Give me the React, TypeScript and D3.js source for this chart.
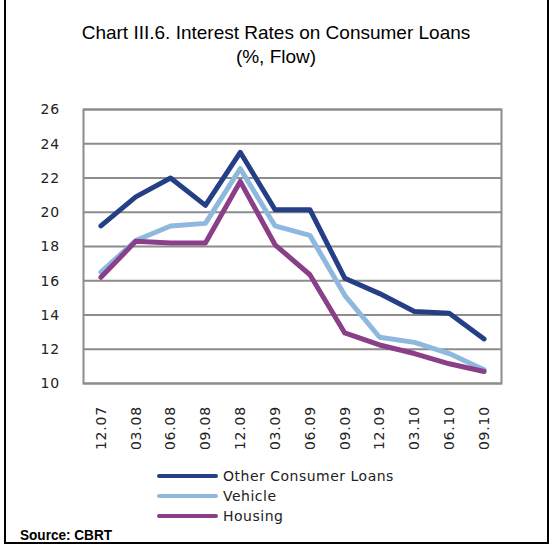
import React from "react";
import * as d3 from "d3";

const categories = ["12.07","03.08","06.08","09.08","12.08","03.09","06.09","09.09","12.09","03.10","06.10","09.10"];
const otherLoans = [19.2,20.9,22.0,20.4,23.5,20.15,20.15,16.15,15.25,14.2,14.1,12.6];
const vehicle = [16.5,18.35,19.2,19.35,22.55,19.2,18.65,15.15,12.7,12.4,11.75,10.8];
const housing = [16.2,18.3,18.2,18.2,21.8,18.1,16.35,12.95,12.25,11.75,11.15,10.7];
const yTicks = [10,12,14,16,18,20,22,24,26];
const seriesNames = ["Other Consumer Loans","Vehicle","Housing"];
const seriesColors = ["#243f86","#8fb8de","#8a3f88"];

export default function App() {
  const W = 553, H = 546;
  const left = 83.5, right = 501.5, top = 109.5, bottom = 383.5;
  const x = d3.scaleBand<string>().domain(categories).range([left, right]);
  const y = d3.scaleLinear().domain([10, 26]).range([bottom, top]);
  const line = d3.line<number>()
    .x((_, i) => (x(categories[i]) as number) + x.bandwidth() / 2)
    .y((d) => y(d));
  const series = [otherLoans, vehicle, housing];
  const font = "'DejaVu Sans', sans-serif";
  const narrow = "'Liberation Sans Narrow', 'Liberation Sans', sans-serif";
  return (
    <svg width={W} height={H} style={{ position: "absolute", left: 0, top: 0 }}>
      <rect x={0} y={0} width={W} height={H} fill="#fff" />
      <rect x={5} y={-2} width={543} height={545} fill="none" stroke="#000" strokeWidth={2} />
      <text x={276} y={39} textAnchor="middle" fontFamily={narrow} fontSize={19} fill="#000">Chart III.6. Interest Rates on Consumer Loans</text>
      <text x={276} y={63} textAnchor="middle" fontFamily={narrow} fontSize={19} fill="#000">(%, Flow)</text>
      {yTicks.map((t) => (
        <g key={t}>
          <line x1={left} x2={right} y1={y(t)} y2={y(t)} stroke="#8c8c8c" strokeWidth={2} />
          <text x={60} y={y(t)} dy="0.35em" textAnchor="end" fontFamily={font} fontSize={14} letterSpacing={0.8} fill="#222">{t}</text>
        </g>
      ))}
      <rect x={left} y={top} width={right - left} height={bottom - top} fill="none" stroke="#8c8c8c" strokeWidth={2} />
      {categories.map((c) => {
        const cx = (x(c) as number) + x.bandwidth() / 2;
        return (
          <text key={c} transform={`translate(${cx},406) rotate(-90)`} textAnchor="end" dy="0.35em" fontFamily={font} fontSize={14} letterSpacing={0.8} fill="#222">{c}</text>
        );
      })}
      {series.map((s, i) => (
        <path key={i} d={line(s) as string} fill="none" stroke={seriesColors[i]} strokeWidth={5} strokeLinejoin="round" strokeLinecap="round" />
      ))}
      {seriesNames.map((n, i) => {
        const ly = 476 + i * 20;
        return (
          <g key={n}>
            <line x1={159} x2={216} y1={ly} y2={ly} stroke={seriesColors[i]} strokeWidth={4} strokeLinecap="round" />
            <text x={223} y={ly} dy="0.35em" fontFamily={font} fontSize={14} letterSpacing={0.5} fill="#222">{n}</text>
          </g>
        );
      })}
      <text x={20} y={540} fontFamily={narrow} fontWeight="bold" fontSize={15} textLength={92} lengthAdjust="spacingAndGlyphs" fill="#000">Source: CBRT</text>
    </svg>
  );
}
